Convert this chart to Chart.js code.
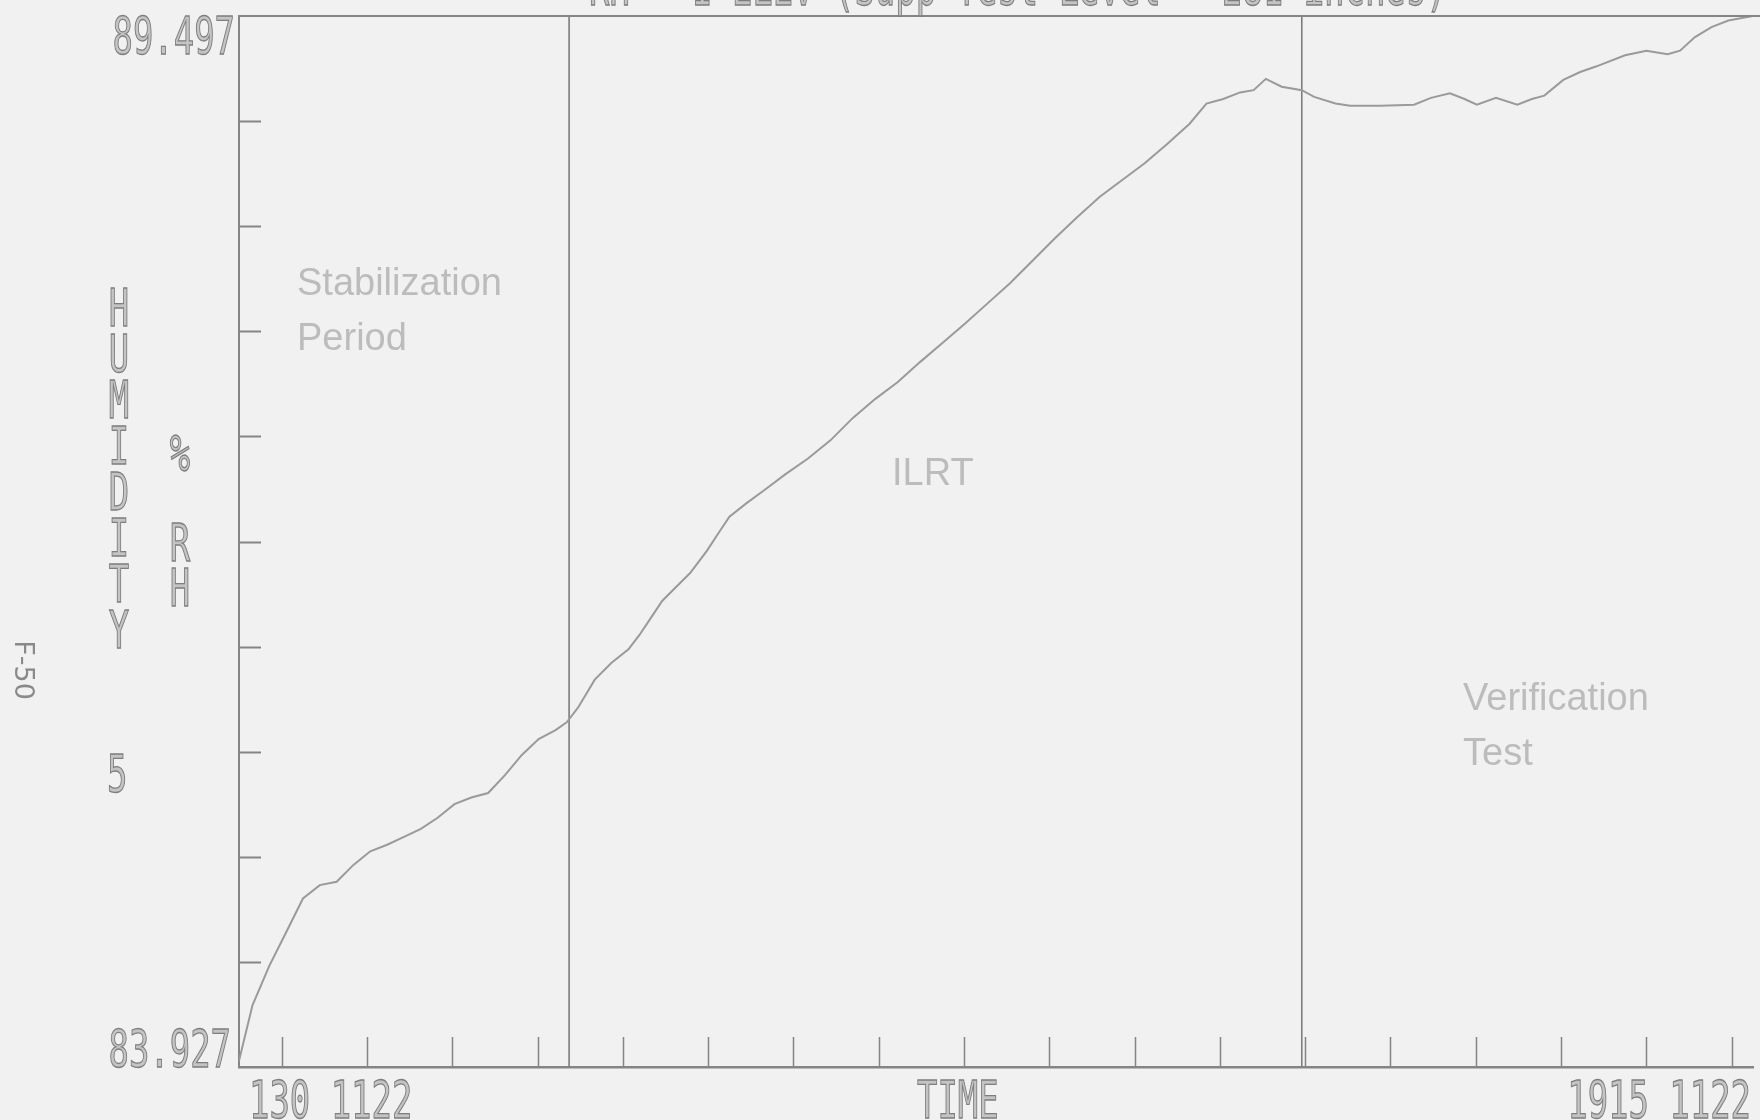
<!DOCTYPE html>
<html>
<head>
<meta charset="utf-8">
<script src="https://cdn.jsdelivr.net/npm/chart.js@4.4.1/dist/chart.umd.min.js"></script>
<style>
  html, body { margin: 0; padding: 0; background: #f1f1f1; }
  canvas { display: block; }
</style>
</head>
<body>
<canvas id="chart" width="1760" height="1120"></canvas>
<script>
// Clock time of each reading, in hours (1.5 = 01:30 on 11/22)
const timeHours = [
  1.500, 1.658, 1.855, 2.053, 2.250, 2.447, 2.645, 2.842, 3.039, 3.237,
  3.434, 3.632, 3.829, 4.026, 4.224, 4.421, 4.618, 4.816, 5.013, 5.211,
  5.342, 5.474, 5.671, 5.868, 6.066, 6.197, 6.329, 6.461, 6.592, 6.789,
  6.987, 7.118, 7.250, 7.447, 7.645, 7.908, 8.171, 8.434, 8.697, 8.961,
  9.224, 9.487, 9.750, 10.013, 10.276, 10.539, 10.803, 11.066, 11.329, 11.592,
  11.855, 12.118, 12.382, 12.645, 12.842, 13.039, 13.237, 13.395, 13.539, 13.724,
  13.961, 14.105, 14.355, 14.526, 14.882, 15.276, 15.474, 15.697, 15.868, 16.013,
  16.237, 16.487, 16.658, 16.803, 17.026, 17.224, 17.408, 17.750, 18.000, 18.250,
  18.395, 18.566, 18.763, 18.961, 19.250
];
// Containment relative humidity, % RH
const humidity = [
  83.960, 84.254, 84.463, 84.641, 84.820, 84.891, 84.909, 84.998, 85.070, 85.105,
  85.147, 85.189, 85.248, 85.320, 85.355, 85.379, 85.474, 85.581, 85.665, 85.712,
  85.754, 85.831, 85.980, 86.069, 86.141, 86.218, 86.307, 86.397, 86.456, 86.545,
  86.664, 86.754, 86.843, 86.914, 86.980, 87.069, 87.152, 87.248, 87.367, 87.468,
  87.557, 87.664, 87.765, 87.867, 87.974, 88.081, 88.200, 88.319, 88.432, 88.539,
  88.628, 88.717, 88.819, 88.926, 89.033, 89.057, 89.092, 89.104, 89.164, 89.122,
  89.104, 89.068, 89.033, 89.021, 89.021, 89.027, 89.063, 89.087, 89.057, 89.027,
  89.063, 89.027, 89.057, 89.075, 89.158, 89.200, 89.229, 89.289, 89.313, 89.295,
  89.313, 89.384, 89.438, 89.473, 89.497
];
// Start of the ILRT and of the verification test (clock hours)
const phaseStarts = [5.37, 13.96];

// Axis ranges and tick layout
const xRange = [1.5, 19.25];
const yRange = [83.927, 89.497];
const xTickHours = [2, 3, 4, 5, 6, 7, 8, 9, 10, 11, 12, 13, 14, 15, 16, 17, 18, 19];
const yTickSteps = 10;

// Texts
const titleText = 'RH - 1 ELEV (Supp Test Level - 281 inches)';
const xEndLabels = ['130 1122', '1915 1122'];
const xTitle = 'TIME';
const yEndLabels = ['83.927', '89.497'];
const yStrayLabel = '5';
const yTitleWords = ['HUMIDITY', '% RH'];
const pageMark = 'F-50';
const phaseNames = [['Stabilization', 'Period'], ['ILRT'], ['Verification', 'Test']];
// Anchor of each phase caption, in data units (hours, % RH)
const phaseAnchors = [[2.18, 88.017], [9.155, 87.009], [15.85, 85.821]];

const INK = '#858585';
const PLOT_FONT = '"DejaVu Sans Mono", monospace';

// Narrow plotter-style lettering: squeezed monospace with an outlined stroke
function plotterText(ctx, text, x, y, opts) {
  const size = opts.size || 51;
  const sx = opts.sx || 0.665;
  ctx.save();
  ctx.font = size + 'px ' + PLOT_FONT;
  ctx.textBaseline = 'alphabetic';
  ctx.textAlign = 'left';
  const w = ctx.measureText(text).width * sx;
  let left = x;
  if (opts.align === 'right') left = x - w;
  else if (opts.align === 'center') left = x - w / 2;
  ctx.translate(left, y);
  ctx.scale(sx, 1);
  ctx.fillStyle = '#c4c4c4';
  ctx.fillText(text, 0, 0);
  ctx.strokeStyle = '#7e7e7e';
  ctx.lineWidth = 1.3;
  ctx.strokeText(text, 0, 0);
  ctx.restore();
}

const paperAndFrame = {
  id: 'paperAndFrame',
  beforeDraw(chart) {
    const { ctx, width, height } = chart;
    ctx.save();
    ctx.fillStyle = '#f1f1f1';
    ctx.fillRect(0, 0, width, height);
    ctx.restore();
  },
  afterDraw(chart) {
    const { ctx, chartArea: a, scales: { x, y } } = chart;
    ctx.save();
    ctx.strokeStyle = INK;
    ctx.lineWidth = 2;
    ctx.beginPath();
    // top frame line
    ctx.moveTo(a.left, a.top);
    ctx.lineTo(a.right + 7, a.top);
    // inward ticks on the humidity axis
    for (let k = 1; k < yTickSteps; k++) {
      const v = yRange[0] + k * (yRange[1] - yRange[0]) / yTickSteps;
      const py = Math.round(y.getPixelForValue(v)) + 0.5;
      ctx.moveTo(a.left, py);
      ctx.lineTo(a.left + 22, py);
    }
    ctx.stroke();
    // hourly ticks on the time axis
    ctx.lineWidth = 1.5;
    ctx.beginPath();
    xTickHours.forEach(h => {
      const px = Math.round(x.getPixelForValue(h)) + 0.5;
      ctx.moveTo(px, a.bottom);
      ctx.lineTo(px, a.bottom - 30);
    });
    ctx.stroke();

    // heading, running off the top of the sheet
    plotterText(ctx, titleText, 589, 5, {});

    // humidity axis labels
    plotterText(ctx, yEndLabels[1], a.left - 4, y.getPixelForValue(yRange[1]) + 38, { align: 'right' });
    plotterText(ctx, yEndLabels[0], a.left - 8, y.getPixelForValue(yRange[0]), { align: 'right' });
    const strayV = yRange[0] + 3 * (yRange[1] - yRange[0]) / yTickSteps;
    plotterText(ctx, yStrayLabel, 107, y.getPixelForValue(strayV) + 40, {});

    // stacked axis title
    [...yTitleWords[0]].forEach((ch, i) => {
      plotterText(ctx, ch, 119, 326 + i * 46, { align: 'center' });
    });
    [...yTitleWords[1]].forEach((ch, i) => {
      if (ch !== ' ') plotterText(ctx, ch, 180, 471 + i * 45, { align: 'center' });
    });

    // time axis labels
    const base = a.bottom + 51;
    plotterText(ctx, xEndLabels[0], a.left + 10, base, {});
    plotterText(ctx, xTitle, 917, base, {});
    plotterText(ctx, xEndLabels[1], a.right - 2, base, { align: 'right' });

    // page number, printed sideways
    ctx.save();
    ctx.translate(22, 670);
    ctx.rotate(Math.PI / 2);
    ctx.font = '27px "DejaVu Sans", sans-serif';
    ctx.fillStyle = '#8a8a8a';
    ctx.textAlign = 'center';
    ctx.textBaseline = 'middle';
    ctx.fillText(pageMark, 0, 0);
    ctx.restore();

    // phase captions
    ctx.font = '38px "Liberation Sans", Arial, sans-serif';
    ctx.fillStyle = '#bcbcbc';
    ctx.textAlign = 'left';
    ctx.textBaseline = 'alphabetic';
    phaseNames.forEach((lines, i) => {
      const px = x.getPixelForValue(phaseAnchors[i][0]);
      const py = y.getPixelForValue(phaseAnchors[i][1]);
      lines.forEach((t, j) => ctx.fillText(t, px, py + j * 55));
    });
    ctx.restore();
  }
};

const datasets = [{
  data: timeHours.map((t, i) => ({ x: t, y: humidity[i] })),
  borderColor: '#9a9a9a',
  borderWidth: 2,
  pointRadius: 0,
  tension: 0
}].concat(phaseStarts.map(t => ({
  data: [{ x: t, y: yRange[0] }, { x: t, y: yRange[1] }],
  borderColor: '#7c7c7c',
  borderWidth: 1.6,
  pointRadius: 0
})));

new Chart(document.getElementById('chart'), {
  type: 'line',
  data: { datasets },
  options: {
    responsive: false,
    animation: false,
    devicePixelRatio: 1,
    layout: { padding: { left: 231, top: 16, right: 7, bottom: 45 } },
    plugins: { legend: { display: false }, tooltip: { enabled: false } },
    scales: {
      x: {
        type: 'linear', min: xRange[0], max: xRange[1],
        ticks: { display: false },
        grid: { display: false },
        border: { display: true, color: INK, width: 2.5 }
      },
      y: {
        type: 'linear', min: yRange[0], max: yRange[1],
        ticks: { display: false },
        grid: { display: false },
        border: { display: true, color: INK, width: 2 }
      }
    }
  },
  plugins: [paperAndFrame]
});
</script>
</body>
</html>
